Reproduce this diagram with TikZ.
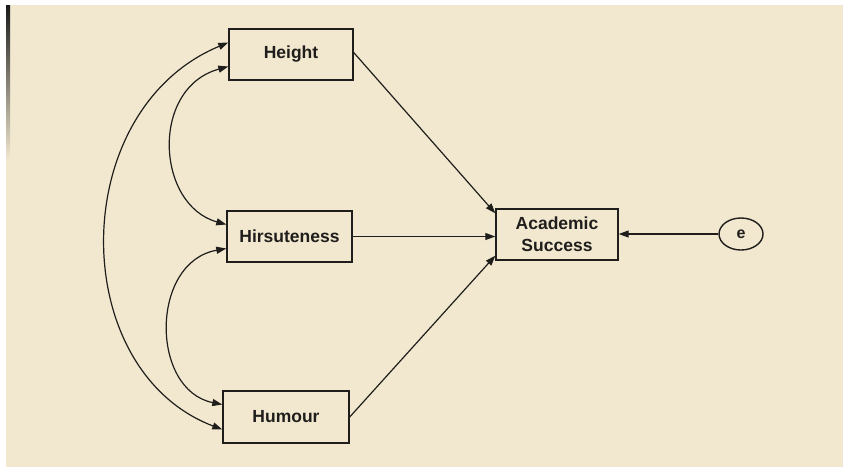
\documentclass[tikz,border=0pt]{standalone}
\usepackage{fontspec}
\setmainfont{Liberation Sans}
\usetikzlibrary{arrows.meta,shapes.geometric}
\definecolor{paper}{RGB}{241,232,207}
\definecolor{ink}{RGB}{32,30,28}
\tikzset{
  varbox/.style={draw=ink, line width=1.4pt, fill=paper, minimum width=124pt, minimum height=51pt, inner sep=0pt, text=ink, font=\fontsize{17.5}{22}\selectfont\bfseries, align=center},
  errnode/.style={draw=ink, line width=1.4pt, ellipse, minimum width=44pt, minimum height=32pt, inner sep=0pt, text=ink, font=\fontsize{16}{18}\selectfont\bfseries},
  pathline/.style={draw=ink, line width=1.2pt, -{Triangle[length=10pt,width=7pt]}},
  cov/.style={draw=ink, line width=1.2pt, {Triangle[length=10pt,width=7pt]}-{Triangle[length=10pt,width=7pt]}}
}
\begin{document}
\begin{tikzpicture}[x=1pt,y=-1pt]
\useasboundingbox (0,0) rectangle (843,467);
\fill[white] (0,0) rectangle (843,467);
\fill[paper] (6,5) rectangle (843,467);
\shade[top color=black!90, bottom color=paper] (6,5) rectangle (10,160);
\node[varbox] (height) at (291,54.5) {Height};
\node[varbox, minimum width=125pt] (hirs) at (289.5,236.5) {Hirsuteness};
\node[varbox, minimum width=126pt, minimum height=52pt] (hum) at (286,417) {Humour};
\node[varbox, minimum width=122pt] (acad) at (557,234.5) {Academic\\Success};
\node[errnode] (e) at (741,234) {e};
\draw[pathline] ([yshift=2pt]height.east) -- ([yshift=-5pt]acad.north west);
\draw[pathline] (hirs.east) -- (hirs.east -| acad.west);
\draw[pathline] (hum.east) -- ([yshift=5pt]acad.south west);
\draw[pathline] (e.west) -- (e.west -| acad.east);
\draw[cov] ([yshift=12pt]height.west) .. controls (66,110) and (66,370) .. ([yshift=-12.5pt]hum.west);
\draw[cov] ([yshift=-12pt]height.west) .. controls (150,88) and (156,205) .. ([yshift=12pt]hirs.west);
\draw[cov] ([yshift=-12pt]hirs.west) .. controls (150,262) and (150,390) .. ([yshift=12.5pt]hum.west);
\end{tikzpicture}
\end{document}
